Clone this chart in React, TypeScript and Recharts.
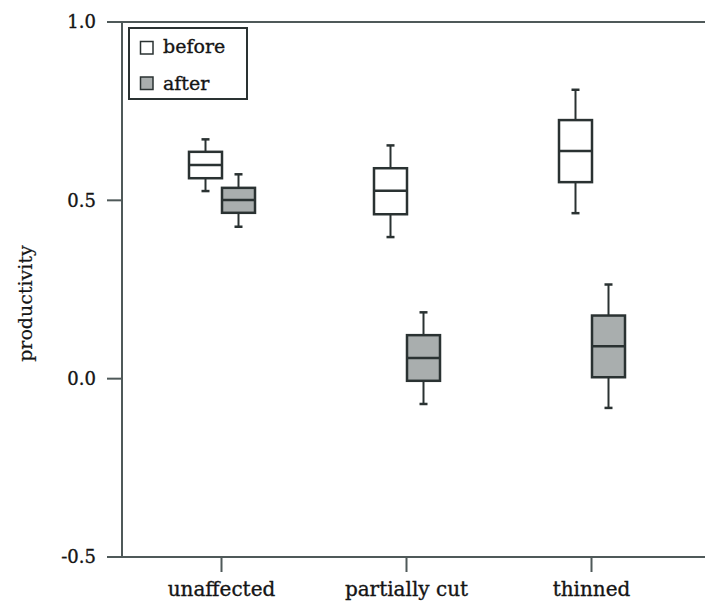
import { Bar, ComposedChart, Legend, ReferenceLine, XAxis, YAxis } from "recharts";

const categories = ["unaffected", "partially cut", "thinned"];

// before treatment: whisker min, lower quartile, median, upper quartile, whisker max
const beforeMin = [0.526, 0.397, 0.464];
const beforeQ1 = [0.562, 0.461, 0.551];
const beforeMedian = [0.599, 0.527, 0.638];
const beforeQ3 = [0.636, 0.59, 0.725];
const beforeMax = [0.671, 0.654, 0.81];

// after treatment
const afterMin = [0.426, -0.071, -0.082];
const afterQ1 = [0.465, -0.006, 0.004];
const afterMedian = [0.501, 0.058, 0.091];
const afterQ3 = [0.535, 0.122, 0.177];
const afterMax = [0.573, 0.186, 0.264];

const yTicks = [-0.5, 0, 0.5, 1.0];

const FONT = "'DejaVu Serif', 'Liberation Serif', serif";
const AXIS = "#4f5959";
const INK = "#2a3232";
const TEXT = "#151515";
const GRAY = "#a9aeae";

const data = categories.map((name, i) => ({
  name,
  before: { min: beforeMin[i], q1: beforeQ1[i], med: beforeMedian[i], q3: beforeQ3[i], max: beforeMax[i] },
  after: { min: afterMin[i], q1: afterQ1[i], med: afterMedian[i], q3: afterQ3[i], max: afterMax[i] },
}));

type Stats = { min: number; q1: number; med: number; q3: number; max: number };

// The bar spans min..max; inner positions come from the same linear scale.
function BoxShape(props: any) {
  const { x, y, width, height, payload, group, fill } = props;
  const s: Stats = payload[group];
  const top = Math.min(y, y + height);
  const span = Math.abs(height);
  const py = (v: number) => top + (span * (s.max - v)) / (s.max - s.min);
  const cx = x + width / 2;
  return (
    <g>
      <line x1={cx} x2={cx} y1={py(s.max)} y2={py(s.q3)} stroke={INK} strokeWidth={2} />
      <line x1={cx} x2={cx} y1={py(s.q1)} y2={py(s.min)} stroke={INK} strokeWidth={2} />
      <line x1={cx - 4} x2={cx + 4} y1={py(s.max)} y2={py(s.max)} stroke={INK} strokeWidth={2.5} />
      <line x1={cx - 4} x2={cx + 4} y1={py(s.min)} y2={py(s.min)} stroke={INK} strokeWidth={2.5} />
      <rect x={x} y={py(s.q3)} width={width} height={py(s.q1) - py(s.q3)} fill={fill} stroke={INK} strokeWidth={2.5} />
      <line x1={x} x2={x + width} y1={py(s.med)} y2={py(s.med)} stroke={INK} strokeWidth={2.5} />
    </g>
  );
}

function LegendBox() {
  return (
    <svg width={120} height={73} style={{ display: "block" }}>
      <rect x={1} y={1} width={118} height={71} fill="#fff" stroke={INK} strokeWidth={2} />
      <rect x={12.5} y={14.5} width={12.5} height={12.5} fill="#fff" stroke={INK} strokeWidth={1.5} />
      <rect x={12.5} y={50} width={12.5} height={12.5} fill={GRAY} stroke={INK} strokeWidth={1.5} />
      <text x={35} y={25.5} fontFamily={FONT} fontSize={19} fill={TEXT} stroke={TEXT} strokeWidth={0.35}>before</text>
      <text x={35} y={62.5} fontFamily={FONT} fontSize={19} fill={TEXT} stroke={TEXT} strokeWidth={0.35}>after</text>
    </svg>
  );
}

function YLabel(props: any) {
  const vb = props.viewBox;
  const x = vb.x + 25;
  const y = vb.y + vb.height / 2 + 14;
  return (
    <text x={x} y={y} transform={`rotate(-90, ${x}, ${y})`} textAnchor="middle" dominantBaseline="central" fontFamily={FONT} fontSize={19} fill={TEXT} stroke={TEXT} strokeWidth={0.2}>
      productivity
    </text>
  );
}

export default function App() {
  return (
    <div style={{ position: "absolute", left: 0, top: 0, width: 705, height: 602, background: "#fff" }}>
      <ComposedChart width={705} height={602} data={data} margin={{ top: 22, right: 0, bottom: 0, left: 0 }} barSize={33} barGap={0} barCategoryGap={0}>
        <XAxis
          dataKey="name"
          height={45}
          padding={{ left: 7, right: 21 }}
          axisLine={{ stroke: AXIS, strokeWidth: 2 }}
          tickLine={{ stroke: AXIS, strokeWidth: 2 }}
          tickSize={15}
          tickMargin={10}
          tick={{ fill: TEXT, stroke: TEXT, strokeWidth: 0.35, fontFamily: FONT, fontSize: 20 }}
          interval={0}
        />
        <YAxis
          type="number"
          domain={[-0.5, 1]}
          ticks={yTicks}
          width={122}
          axisLine={{ stroke: AXIS, strokeWidth: 2 }}
          tickLine={{ stroke: AXIS, strokeWidth: 2 }}
          tickSize={15}
          tickMargin={11}
          tickFormatter={(v: number) => v.toFixed(1)}
          tick={{ fill: TEXT, stroke: TEXT, strokeWidth: 0.35, fontFamily: FONT, fontSize: 18 }}
          label={{ content: YLabel }}
        />
        <ReferenceLine y={1} stroke={AXIS} strokeWidth={2} />
        <Legend
          layout="horizontal"
          verticalAlign="middle"
          align="center"
          wrapperStyle={{ position: "absolute", left: 128, top: 27, width: 120, height: 73 }}
          content={() => <LegendBox />}
        />
        <Bar
          dataKey={(d: any) => [d.before.min, d.before.max]}
          name="before"
          fill="#fff"
          isAnimationActive={false}
          shape={(p: any) => <BoxShape {...p} group="before" fill="#fff" />}
        />
        <Bar
          dataKey={(d: any) => [d.after.min, d.after.max]}
          name="after"
          fill={GRAY}
          isAnimationActive={false}
          shape={(p: any) => <BoxShape {...p} group="after" fill={GRAY} />}
        />
      </ComposedChart>
    </div>
  );
}
